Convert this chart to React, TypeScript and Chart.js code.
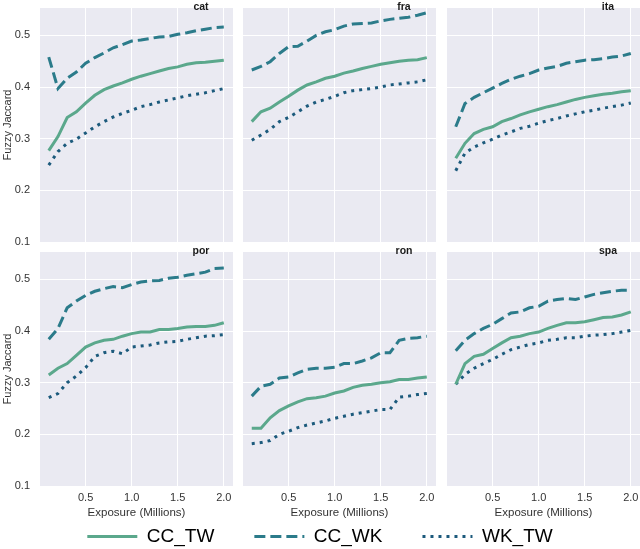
import { useEffect, useRef } from "react"
import { Chart, registerables, type ChartConfiguration, type Plugin } from "chart.js"

Chart.register(...registerables)

Chart.defaults.font.family = "'Liberation Sans', Arial, Helvetica, sans-serif"
Chart.defaults.color = "#333"

// exposure in millions, shared by every panel
const exposure = [0.1, 0.2, 0.3, 0.4, 0.5, 0.6, 0.7, 0.8, 0.9, 1.0, 1.1, 1.2, 1.3, 1.4, 1.5, 1.6, 1.7, 1.8, 1.9, 2.0]
const xTicks = [0.5, 1.0, 1.5, 2.0]
const yTicks = [0.1, 0.2, 0.3, 0.4, 0.5]
const languages = ["cat", "fra", "ita", "por", "ron", "spa"]
const seriesNames = ["CC_TW", "CC_WK", "WK_TW"]

const catCCTW = [0.277, 0.304, 0.341, 0.352, 0.369, 0.384, 0.395, 0.402, 0.408, 0.415, 0.421, 0.426, 0.431, 0.436, 0.439, 0.444, 0.447, 0.448, 0.45, 0.452]
const catCCWK = [0.458, 0.397, 0.417, 0.429, 0.446, 0.457, 0.466, 0.476, 0.482, 0.489, 0.491, 0.494, 0.497, 0.498, 0.502, 0.505, 0.509, 0.512, 0.515, 0.516]
const catWKTW = [0.249, 0.275, 0.291, 0.299, 0.311, 0.323, 0.333, 0.342, 0.349, 0.355, 0.362, 0.366, 0.371, 0.375, 0.379, 0.383, 0.386, 0.389, 0.393, 0.397]

const fraCCTW = [0.333, 0.352, 0.359, 0.371, 0.382, 0.394, 0.404, 0.41, 0.417, 0.421, 0.427, 0.431, 0.436, 0.44, 0.444, 0.447, 0.45, 0.452, 0.453, 0.457]
const fraCCWK = [0.433, 0.44, 0.449, 0.465, 0.478, 0.479, 0.489, 0.5, 0.507, 0.511, 0.518, 0.522, 0.523, 0.524, 0.528, 0.531, 0.533, 0.535, 0.539, 0.544]
const fraWKTW = [0.297, 0.307, 0.318, 0.333, 0.341, 0.352, 0.363, 0.371, 0.376, 0.382, 0.389, 0.393, 0.395, 0.397, 0.4, 0.404, 0.406, 0.408, 0.41, 0.414]

const itaCCTW = [0.262, 0.291, 0.31, 0.318, 0.323, 0.333, 0.339, 0.346, 0.352, 0.357, 0.362, 0.366, 0.371, 0.376, 0.38, 0.383, 0.386, 0.388, 0.391, 0.393]
const itaCCWK = [0.323, 0.368, 0.38, 0.389, 0.398, 0.407, 0.415, 0.421, 0.426, 0.433, 0.437, 0.44, 0.446, 0.449, 0.452, 0.453, 0.455, 0.458, 0.46, 0.465]
const itaWKTW = [0.238, 0.272, 0.284, 0.292, 0.299, 0.307, 0.313, 0.32, 0.324, 0.33, 0.335, 0.339, 0.344, 0.348, 0.352, 0.355, 0.359, 0.362, 0.365, 0.369]

const porCCTW = [0.315, 0.328, 0.337, 0.353, 0.369, 0.377, 0.382, 0.384, 0.39, 0.395, 0.398, 0.398, 0.403, 0.403, 0.405, 0.408, 0.409, 0.409, 0.411, 0.416]
const porCCWK = [0.384, 0.405, 0.445, 0.458, 0.469, 0.477, 0.482, 0.486, 0.484, 0.49, 0.495, 0.497, 0.498, 0.502, 0.504, 0.508, 0.511, 0.514, 0.521, 0.522]
const porWKTW = [0.271, 0.279, 0.3, 0.313, 0.329, 0.351, 0.358, 0.361, 0.356, 0.369, 0.371, 0.373, 0.377, 0.379, 0.38, 0.384, 0.387, 0.39, 0.391, 0.393]

const ronCCTW = [0.212, 0.212, 0.232, 0.246, 0.255, 0.263, 0.269, 0.271, 0.274, 0.28, 0.284, 0.291, 0.295, 0.297, 0.3, 0.302, 0.306, 0.306, 0.309, 0.311]
const ronCCWK = [0.274, 0.293, 0.297, 0.309, 0.311, 0.319, 0.326, 0.328, 0.328, 0.33, 0.337, 0.337, 0.342, 0.348, 0.358, 0.358, 0.382, 0.386, 0.387, 0.39]
const ronWKTW = [0.182, 0.184, 0.188, 0.2, 0.206, 0.213, 0.218, 0.222, 0.226, 0.231, 0.235, 0.239, 0.242, 0.245, 0.248, 0.248, 0.272, 0.274, 0.277, 0.279]

const spaCCTW = [0.297, 0.337, 0.351, 0.355, 0.366, 0.377, 0.387, 0.39, 0.395, 0.398, 0.405, 0.411, 0.416, 0.416, 0.418, 0.422, 0.426, 0.427, 0.431, 0.437]
const spaCCWK = [0.362, 0.382, 0.395, 0.405, 0.413, 0.424, 0.435, 0.437, 0.445, 0.448, 0.458, 0.461, 0.463, 0.461, 0.466, 0.471, 0.474, 0.477, 0.479, 0.479]
const spaWKTW = [0.297, 0.316, 0.328, 0.337, 0.345, 0.355, 0.364, 0.369, 0.374, 0.377, 0.382, 0.384, 0.387, 0.387, 0.39, 0.392, 0.393, 0.395, 0.398, 0.401]

const panelSeries: number[][][] = [
  [catCCTW, catCCWK, catWKTW],
  [fraCCTW, fraCCWK, fraWKTW],
  [itaCCTW, itaCCWK, itaWKTW],
  [porCCTW, porCCWK, porWKTW],
  [ronCCTW, ronCCWK, ronWKTW],
  [spaCCTW, spaCCWK, spaWKTW],
]

const seriesStyle = [
  { color: "#5ba88c", dash: [] as number[] },
  { color: "#2b7b8a", dash: [11, 5] },
  { color: "#1c5a7c", dash: [3, 5] },
]

// panel geometry (px in the 640x549 page)
const colLeft = [40, 243, 447]
const rowTop = [8, 252]
const panelWidth = 193
const panelHeight = 234
const titleSpace = 8

const panelBackground: Plugin = {
  id: "panelBackground",
  beforeDraw(chart) {
    const { ctx, chartArea } = chart
    ctx.save()
    ctx.fillStyle = "#eaeaf2"
    ctx.fillRect(chartArea.left, chartArea.top, chartArea.right - chartArea.left, chartArea.bottom - chartArea.top)
    ctx.restore()
  },
}

const panelTitle: Plugin = {
  id: "panelTitle",
  afterDraw(chart, _args, opts: any) {
    const { ctx, chartArea } = chart
    ctx.save()
    ctx.font = "bold 10.5px 'Liberation Sans', Arial, sans-serif"
    ctx.fillStyle = "#1a1a1a"
    ctx.textAlign = "center"
    ctx.textBaseline = "alphabetic"
    ctx.fillText(opts.text, chartArea.left + 161, chartArea.top + 1.5)
    ctx.restore()
  },
}

function Panel({ index }: { index: number }) {
  const canvasRef = useRef<HTMLCanvasElement>(null)
  const row = Math.floor(index / 3)
  const col = index % 3
  const left = col === 0 ? 0 : colLeft[col]
  const top = rowTop[row] - titleSpace
  const yAxisWidth = colLeft[col] - left
  const xAxisHeight = row === 1 ? 34 : 8
  const width = colLeft[col] + panelWidth - left
  const height = titleSpace + panelHeight + xAxisHeight

  useEffect(() => {
    if (!canvasRef.current) return

    const config: ChartConfiguration<"line"> = {
      type: "line",
      data: {
        datasets: panelSeries[index].map((values, k) => ({
          label: seriesNames[k],
          data: exposure.map((x, i) => ({ x, y: values[i] })),
          borderColor: seriesStyle[k].color,
          borderDash: seriesStyle[k].dash,
          borderWidth: 3,
          borderCapStyle: "butt",
          pointRadius: 0,
          fill: false,
          tension: 0,
        })),
      },
      options: {
        animation: false,
        responsive: true,
        maintainAspectRatio: false,
        events: [],
        layout: { padding: { top: titleSpace, left: 0, right: 0, bottom: 0 } },
        scales: {
          x: {
            type: "linear",
            min: 0.005,
            max: 2.1,
            afterBuildTicks: (s) => {
              s.ticks = xTicks.map((v) => ({ value: v }))
            },
            afterFit: (s) => {
              s.height = xAxisHeight
              s.paddingLeft = 0
              s.paddingRight = 0
            },
            grid: { color: "#ffffff", lineWidth: 1, drawTicks: false },
            border: { display: false },
            ticks: {
              display: row === 1,
              padding: 5,
              maxRotation: 0,
              autoSkip: false,
              font: { size: 11 },
              color: "#333",
              callback: (v) => Number(v).toFixed(1),
            },
            title: {
              display: row === 1,
              text: "Exposure (Millions)",
              font: { size: 11.5 },
              color: "#333",
              padding: { top: 0, bottom: 0 },
            },
          },
          y: {
            min: 0.1,
            max: 0.553,
            afterBuildTicks: (s) => {
              s.ticks = yTicks.map((v) => ({ value: v }))
            },
            afterFit: (s) => {
              s.width = yAxisWidth
              s.paddingTop = 0
              s.paddingBottom = 0
            },
            grid: { color: "#ffffff", lineWidth: 1, drawTicks: false },
            border: { display: false },
            ticks: {
              display: col === 0,
              padding: 10,
              font: { size: 11 },
              color: "#333",
              callback: (v) => Number(v).toFixed(1),
            },
            title: {
              display: col === 0,
              text: "Fuzzy Jaccard",
              font: { size: 11 },
              color: "#333",
              padding: { top: 1.4, bottom: 0 },
            },
          },
        },
        plugins: {
          legend: { display: false },
          tooltip: { enabled: false },
          panelTitle: { text: languages[index] },
        } as any,
      },
      plugins: [panelBackground, panelTitle],
    }

    const chart = new Chart(canvasRef.current, config)
    return () => chart.destroy()
  }, [index])

  return (
    <div style={{ position: "absolute", left, top, width, height }}>
      <canvas ref={canvasRef} />
    </div>
  )
}

function SeriesLegend() {
  const canvasRef = useRef<HTMLCanvasElement>(null)

  useEffect(() => {
    if (!canvasRef.current) return

    const chart = new Chart(canvasRef.current, {
      type: "line",
      data: {
        datasets: seriesNames.map((name, k) => ({
          label: name,
          data: [],
          borderColor: seriesStyle[k].color,
          borderDash: seriesStyle[k].dash,
          borderWidth: 3,
        })),
      },
      options: {
        animation: false,
        responsive: true,
        maintainAspectRatio: false,
        events: [],
        scales: { x: { display: false }, y: { display: false } },
        plugins: {
          tooltip: { enabled: false },
          legend: {
            position: "top",
            align: "center",
            labels: {
              usePointStyle: true,
              pointStyleWidth: 50,
              boxWidth: 50,
              boxHeight: 10,
              padding: 40,
              font: { size: 19 },
              color: "#262626",
              // line handles that keep each series' dash pattern
              generateLabels: () =>
                seriesNames.map((name, k) => ({
                  text: name,
                  datasetIndex: k,
                  hidden: false,
                  pointStyle: "line",
                  strokeStyle: seriesStyle[k].color,
                  fillStyle: seriesStyle[k].color,
                  lineWidth: 3,
                  lineDash: seriesStyle[k].dash,
                  lineCap: "butt",
                })),
            },
          },
        },
      },
    })
    return () => chart.destroy()
  }, [])

  // canvas runs past the page bottom (clipped) so the legend box has room for its padding
  return (
    <div style={{ position: "absolute", left: 0, top: 486.5, width: 640, height: 300 }}>
      <canvas ref={canvasRef} />
    </div>
  )
}

export default function App() {
  return (
    <div
      style={{
        position: "absolute",
        left: 0,
        top: 0,
        width: 640,
        height: 549,
        overflow: "hidden",
        background: "#ffffff",
      }}
    >
      {languages.map((lang, i) => (
        <Panel key={lang} index={i} />
      ))}
      <SeriesLegend />
    </div>
  )
}
